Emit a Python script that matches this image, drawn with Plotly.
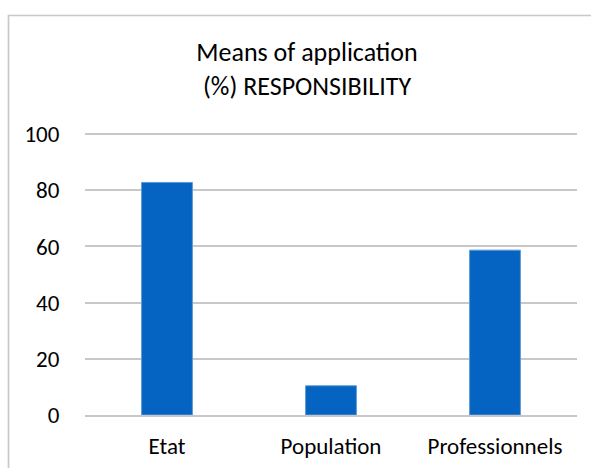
import plotly.graph_objects as go

categories = ["Etat", "Population", "Professionnels"]
values = [82.8, 10.4, 58.7]
y_ticks = [0, 20, 40, 60, 80, 100]

W, H = 591, 468
L, R, T, B = 85, 14, 133, 53
pw = W - L - R
ph = H - T - B
ymax = 100.4

fig = go.Figure(go.Bar(
    x=categories, y=values,
    marker=dict(color="#0563C1", line=dict(color="#5B9BD5", width=1)),
    width=0.31,
))

fig.update_layout(
    width=W, height=H,
    margin=dict(l=L, r=R, t=T, b=B, autoexpand=False),
    paper_bgcolor="white", plot_bgcolor="white",
    font=dict(family="Carlito, Calibri, Lato, sans-serif", color="#000000"),
    title=dict(text="Means of application<br>(%) RESPONSIBILITY",
               x=307 / W, xanchor="center", y=1 - 61 / H, yanchor="middle",
               font=dict(size=26, color="#000000")),
    showlegend=False,
    bargap=0.69,
)
fig.update_yaxes(range=[0, ymax], tickvals=y_ticks, showgrid=True, gridcolor="#C8C8C8",
                 gridwidth=1.5, zeroline=False, showline=False, automargin=False,
                 ticks="outside", ticklen=20, tickcolor="rgba(0,0,0,0)",
                 tickfont=dict(size=23))
fig.update_xaxes(showline=True, linecolor="#C8C8C8", linewidth=1.5, automargin=False,
                 ticks="outside", ticklen=10, tickcolor="rgba(0,0,0,0)",
                 tickfont=dict(size=23))

# chart border
x0 = (8.5 - L) / pw
y1 = (H - B - 15.5) / ph
fig.add_shape(type="rect", xref="paper", yref="paper",
              x0=x0, x1=1.2, y0=-0.5, y1=y1,
              line=dict(color="#C8C8C8", width=1.7), fillcolor="rgba(0,0,0,0)")

fig.write_html("out.html")
